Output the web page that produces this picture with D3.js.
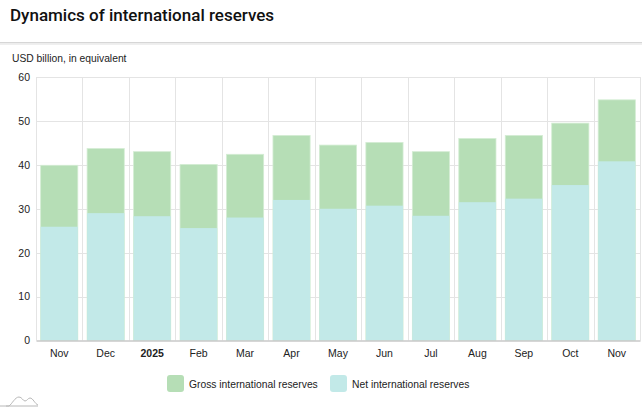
<!DOCTYPE html>
<html>
<head>
<meta charset="utf-8">
<script src="https://cdn.jsdelivr.net/npm/d3@7"></script>
<style>
  body { margin: 0; background: #fff; }
  svg { display: block; }
</style>
</head>
<body>
<div id="chart"></div>
<script>
const months = ['Nov', 'Dec', '2025', 'Feb', 'Mar', 'Apr', 'May', 'Jun', 'Jul', 'Aug', 'Sep', 'Oct', 'Nov'];
const grossReserves = [39.9, 43.7, 43.0, 40.1, 42.4, 46.7, 44.5, 45.1, 43.0, 46.0, 46.7, 49.5, 54.8];
const netReserves = [25.9, 29.0, 28.3, 25.6, 28.0, 32.0, 30.0, 30.7, 28.4, 31.5, 32.3, 35.4, 40.8];
const yTicks = [0, 10, 20, 30, 40, 50, 60];
const seriesNames = ['Gross international reserves', 'Net international reserves'];

const w = 642;
const h = 410;
const margin = { top: 77, right: 2, bottom: 69, left: 36 };
const grossColor = '#b6deb6';
const netColor = '#c2e9e8';
const font = '"Liberation Sans", Arial, sans-serif';

const svg = d3.select('#chart')
  .append('svg')
  .attr('width', w)
  .attr('height', h);

// header
svg.append('text')
  .attr('x', 10)
  .attr('y', 21)
  .attr('font-family', 'Roboto, sans-serif')
  .attr('font-weight', 500)
  .attr('font-size', 17)
  .attr('fill', '#111')
  .text('Dynamics of international reserves');

svg.append('rect').attr('x', 0).attr('y', 42).attr('width', w).attr('height', 1.5).attr('fill', '#d6d6d6');
svg.append('rect').attr('x', 0).attr('y', 43.5).attr('width', w).attr('height', 1.5).attr('fill', '#efefef');

svg.append('text')
  .attr('x', 12)
  .attr('y', 62)
  .attr('font-family', font)
  .attr('font-size', 10.3)
  .attr('fill', '#222')
  .text('USD billion, in equivalent');

const x = d3.scaleBand()
  .domain(d3.range(months.length))
  .range([margin.left, w - margin.right])
  .paddingInner(0.2)
  .paddingOuter(0.1);

const y = d3.scaleLinear()
  .domain([0, 60])
  .range([h - margin.bottom - 0.5, margin.top]);

const step = x.step();

// grid
const grid = svg.append('g').attr('stroke', '#e4e4e4').attr('stroke-width', 1);
grid.selectAll('line.h')
  .data(yTicks.filter(d => d > 0))
  .enter()
  .append('line')
  .attr('x1', margin.left)
  .attr('x2', w - margin.right)
  .attr('y1', d => Math.round(y(d)) + 0.5)
  .attr('y2', d => Math.round(y(d)) + 0.5);

grid.selectAll('line.v')
  .data(d3.range(months.length + 1))
  .enter()
  .append('line')
  .attr('x1', i => Math.round(margin.left + i * step) + 0.5)
  .attr('x2', i => Math.round(margin.left + i * step) + 0.5)
  .attr('y1', y(60))
  .attr('y2', y(0));

// bars: gross behind, net in front
svg.append('g')
  .selectAll('rect')
  .data(grossReserves)
  .enter()
  .append('rect')
  .attr('x', (d, i) => x(i))
  .attr('width', x.bandwidth())
  .attr('y', d => y(d))
  .attr('height', d => y(0) - y(d))
  .attr('fill', grossColor)
  .attr('stroke', '#d4edd4')
  .attr('stroke-width', 0.8);

svg.append('g')
  .selectAll('rect')
  .data(netReserves)
  .enter()
  .append('rect')
  .attr('x', (d, i) => x(i))
  .attr('width', x.bandwidth())
  .attr('y', d => y(d))
  .attr('height', d => y(0) - y(d))
  .attr('fill', netColor);

// y axis
const yAxis = d3.axisLeft(y).tickValues(yTicks).tickSize(0).tickPadding(6);
svg.append('g')
  .attr('transform', `translate(${margin.left},0)`)
  .call(yAxis)
  .call(g => g.select('.domain').remove())
  .call(g => g.selectAll('text')
    .attr('font-family', font)
    .attr('font-size', 10.5)
    .attr('fill', '#222'));

// x axis
const xAxis = d3.axisBottom(x).tickFormat(i => months[i]).tickSize(0).tickPadding(9);
svg.append('g')
  .attr('transform', `translate(0,${y(0)})`)
  .call(xAxis)
  .call(g => g.select('.domain').attr('stroke', '#c8c8c8').attr('stroke-width', 1.5))
  .call(g => g.selectAll('text')
    .attr('font-family', font)
    .attr('font-size', 10.5)
    .attr('fill', '#222')
    .attr('font-weight', i => months[i] === '2025' ? 'bold' : 'normal'));

// legend
const legendItems = [
  { name: seriesNames[0], color: grossColor, x: 167 },
  { name: seriesNames[1], color: netColor, x: 330 }
];
const legend = svg.append('g').attr('transform', 'translate(0,375)');
legendItems.forEach(item => {
  legend.append('rect')
    .attr('x', item.x)
    .attr('y', 0)
    .attr('width', 17)
    .attr('height', 17)
    .attr('rx', 3)
    .attr('fill', item.color);
  legend.append('text')
    .attr('x', item.x + 22)
    .attr('y', 12.5)
    .attr('font-family', font)
    .attr('font-size', 10.3)
    .attr('fill', '#222')
    .text(item.name);
});

// small logo bottom-left
svg.append('path')
  .attr('d', 'M0,406 H9 C12,404 15,397 19,397 C22,397 23,401 25,401 C27,401 28,398 30,398 C33,398 35,404 38,405 M6,406 H38')
  .attr('fill', 'none')
  .attr('stroke', '#b8b8b8')
  .attr('stroke-width', 1);
</script>
</body>
</html>
